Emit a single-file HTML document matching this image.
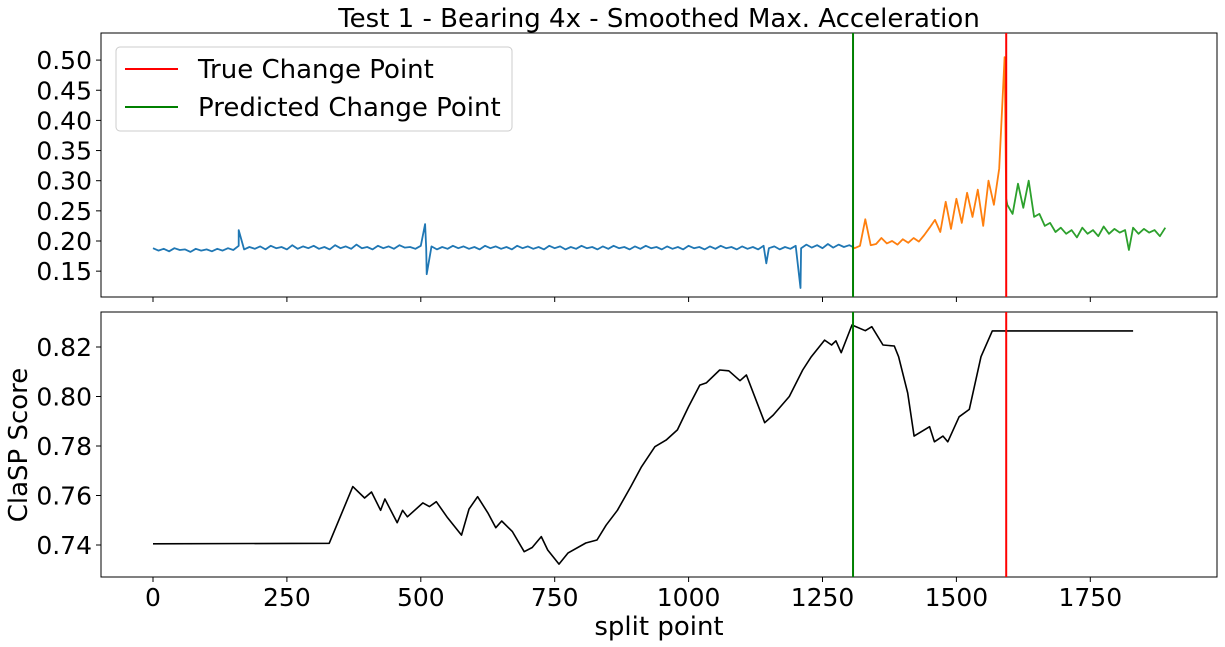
<!DOCTYPE html>
<html><head><meta charset="utf-8"><style>
body{margin:0;background:#fff;}
svg{display:block;font-family:"DejaVu Sans","Liberation Sans",sans-serif;}
</style></head><body>
<svg id="chart" width="1225" height="647" viewBox="0 0 1225 647" xmlns="http://www.w3.org/2000/svg">
<text x="659" y="27" font-size="26" text-anchor="middle">Test 1 - Bearing 4x - Smoothed Max. Acceleration</text>
<g id="topPanel"></g>
<g id="botPanel"></g>
<text x="659" y="635" font-size="26" text-anchor="middle">split point</text>
<text transform="translate(27,445) rotate(-90)" font-size="26" text-anchor="middle">ClaSP Score</text>
</svg>
<script>
const blueV=[.188,.184,.187,.183,.188,.185,.186,.182,.187,.184,
.186,.183,.187,.184,.188,.185,.192,.186,.190,.187,
.191,.186,.192,.188,.190,.186,.193,.187,.191,.188,
.192,.187,.190,.186,.193,.188,.191,.187,.194,.188,
.190,.186,.192,.188,.191,.187,.193,.189,.190,.187,
.192,.188,.191,.186,.190,.187,.192,.188,.191,.187,
.190,.186,.192,.188,.191,.187,.190,.186,.192,.188,
.191,.187,.190,.186,.192,.188,.191,.186,.190,.187,
.192,.188,.190,.186,.191,.187,.192,.188,.190,.186,
.191,.187,.192,.188,.190,.186,.191,.187,.190,.186,
.192,.188,.190,.186,.191,.187,.192,.188,.190,.186,
.191,.187,.190,.186,.192,.188,.191,.186,.190,.187,
.192,.188,.194,.189,.193,.188,.195,.189,.194,.190,.193];
const blueSpikeX=[160,508,511,1145,1209];
const blueSpikeV=[.218,.228,.145,.163,.122];
const orangeX=[1307,1310,1320,1330,1340,1350,1360,1370,1380,1390,1400,1410,1420,1430,1440,1450,1460,1470,1480,1490,1500,1510,1520,1530,1540,1550,1560,1570,1580,1590,1593];
const orangeV=[.190,.188,.192,.236,.193,.195,.205,.196,.200,.194,.203,.197,.205,.199,.210,.222,.235,.215,.265,.220,.270,.230,.280,.240,.285,.225,.300,.260,.320,.505,.27];
const greenX=[1593,1595,1605,1615,1625,1635,1645,1655,1665,1675,1685,1695,1705,1715,1725,1735,1745,1755,1765,1775,1785,1795,1805,1815,1822,1830,1840,1850,1860,1870,1880,1890];
const greenV=[.27,.26,.245,.295,.255,.30,.24,.245,.225,.23,.215,.222,.212,.218,.206,.222,.212,.218,.208,.224,.212,.220,.214,.218,.185,.222,.212,.220,.214,.218,.208,.222];
const claspX=[0,329,373,395,408,425,433,456,466,475,504,516,529,550,576,590,606,625,640,651,671,693,708,725,737,758,775,808,829,846,867,892,912,937,958,979,1000,1021,1033,1058,1075,1096,1108,1142,1158,1188,1213,1229,1254,1267,1275,1285,1305,1330,1342,1363,1384,1392,1409,1421,1450,1459,1475,1484,1505,1524,1546,1567,1830];
const claspV=[.7405,.7407,.7636,.759,.7614,.754,.7586,.749,.754,.7514,.757,.7555,.7575,.751,.744,.7545,.7595,.753,.747,.7497,.7454,.7373,.739,.7434,.738,.7323,.7368,.7408,.742,.748,.754,.7636,.7716,.7797,.7824,.7865,.7959,.8046,.8055,.8107,.8104,.8064,.8087,.7894,.7925,.800,.8107,.8161,.8228,.8208,.8225,.8177,.8289,.8266,.8282,.8208,.8204,.8161,.8014,.784,.7878,.7817,.784,.7817,.7918,.7948,.8161,.8265,.8265];
const xTicks=[0,250,500,750,1000,1250,1500,1750];
const topTicks=[0.15,0.20,0.25,0.30,0.35,0.40,0.45,0.50];
const botTicks=[0.74,0.76,0.78,0.80,0.82];
const trueCP=1593, predCP=1307;

const NS="http://www.w3.org/2000/svg";
const X=u=>153+u*0.5356;
const Ytop=v=>241-(v-0.20)*603;
const Ybot=v=>545-(v-0.74)*2475;
const L=101,R=1217;
function mk(tag,attrs,parent){const e=document.createElementNS(NS,tag);for(const k in attrs)e.setAttribute(k,attrs[k]);parent.appendChild(e);return e;}
function poly(xs,vs,Y,color,parent,name,w){
  const pts=xs.map((x,i)=>X(x).toFixed(1)+","+Y(vs[i]).toFixed(1)).join(" ");
  const p=mk("polyline",{points:pts,fill:"none",stroke:color,"stroke-width":w||1.8,"stroke-linejoin":"round"},parent);
  
  
}
function panel(g,y0,y1,ticks,Y,fmt,labels){
  const cp=mk("clipPath",{id:"c"+y0},g);mk("rect",{x:L,y:y0,width:R-L,height:y1-y0},cp);
  const inner=mk("g",{"clip-path":"url(#c"+y0+")"},g);
  const fr=mk("rect",{x:L,y:y0,width:R-L,height:y1-y0,fill:"none",stroke:"#000","stroke-width":1},g);
  
  
  ticks.forEach(t=>{const y=Y(t);
    const tk=mk("line",{x1:L-5,x2:L,y1:y,y2:y,stroke:"#000"},g);
    
    
    const tx=mk("text",{x:L-9,y:y+9,"font-size":25,"text-anchor":"end"},g);tx.textContent=fmt(t);
    
    
  });
  xTicks.forEach(t=>{const x=X(t);
    const tk=mk("line",{x1:x,x2:x,y1:y1,y2:y1+5,stroke:"#000"},g);
    
    
    if(labels){const tx=mk("text",{x:x,y:y1+29,"font-size":25,"text-anchor":"middle"},g);tx.textContent=t;
      
      }
  });
  return inner;
}
const topG=document.getElementById("topPanel"), botG=document.getElementById("botPanel");
const ti=panel(topG,33,297,topTicks,Ytop,t=>t.toFixed(2),false);
const bi=panel(botG,312,577,botTicks,Ybot,t=>t.toFixed(2),true);
let bx=blueV.map((v,i)=>i*10), bv=blueV.slice();
blueSpikeX.forEach((sx,j)=>{let k=bx.findIndex(x=>x>sx);bx.splice(k,0,sx);bv.splice(k,0,blueSpikeV[j]);});
bx.push(predCP);bv.push(orangeV[0]);
poly(bx,bv,Ytop,"#1f77b4",ti,"series-segment-1");
poly(orangeX,orangeV,Ytop,"#ff7f0e",ti,"series-segment-2");
poly(greenX,greenV,Ytop,"#2ca02c",ti,"series-segment-3");
poly(claspX,claspV,Ybot,"#000",bi,"clasp-score-line",1.6);
[[topG,33,297],[botG,312,577]].forEach(([g,a,b])=>{
  const l1=mk("line",{x1:X(predCP),x2:X(predCP),y1:a,y2:b,stroke:"#008000","stroke-width":2},g);
  
  
  const l2=mk("line",{x1:X(trueCP),x2:X(trueCP),y1:a,y2:b,stroke:"#ff0000","stroke-width":2},g);
  
  
});
const lg=mk("g",{},topG);


mk("rect",{x:116,y:47,width:396,height:84,rx:4,fill:"#fff","fill-opacity":0.8,stroke:"#ccc"},lg);
[["True Change Point","#ff0000",69],["Predicted Change Point","#008000",107]].forEach(([t,c,y])=>{
  const e=mk("g",{},lg);
  
  
  mk("line",{x1:125,x2:178,y1:y,y2:y,stroke:c,"stroke-width":2},e);
  const tx=mk("text",{x:198,y:y+9,"font-size":26},e);tx.textContent=t;
});
</script>
</body></html>
